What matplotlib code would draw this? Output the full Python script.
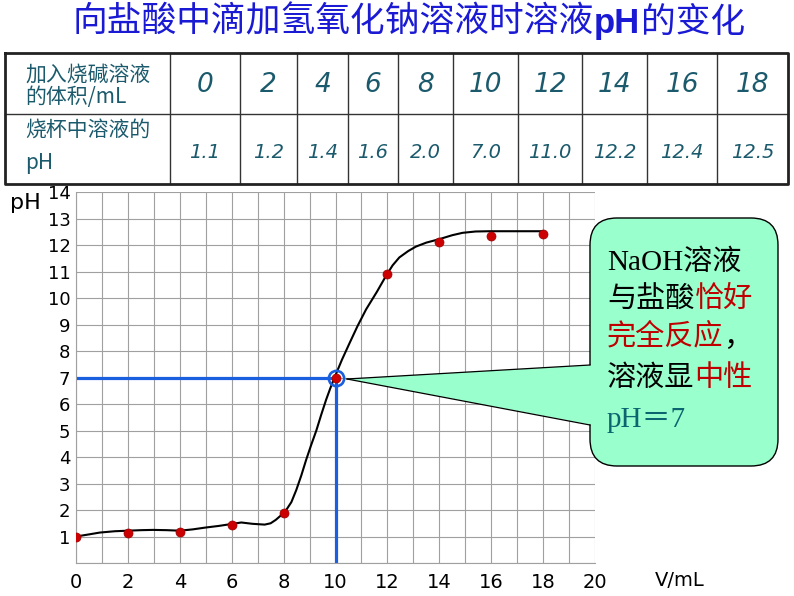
import matplotlib
matplotlib.use('Agg')
import matplotlib.pyplot as plt
from matplotlib.patches import FancyBboxPatch, Polygon
from matplotlib.lines import Line2D

CJK = ['Noto Sans CJK SC', 'DejaVu Sans']
SERIF = ['Liberation Serif', 'Noto Sans CJK SC']

# data ------------------------------------------------------------------------
title_parts = [('向盐酸中滴加氢氧化钠溶液时溶液', 'normal'),
               ('pH', 'bold'),
               ('的变化', 'normal')]
row_header_1 = ['加入烧碱溶液', '的体积/mL']
row_header_2 = ['烧杯中溶液的', 'pH']
volume = [0, 2, 4, 6, 8, 10, 12, 14, 16, 18]
ph_labels = ['1.1', '1.2', '1.4', '1.6', '2.0', '7.0', '11.0', '12.2', '12.4', '12.5']
# red dots as drawn on the chart
dot_ph = [1.0, 1.14, 1.18, 1.43, 1.87, 7.0, 10.9, 12.12, 12.34, 12.43]

# hand drawn curve
curve_x = [0, 0.5, 0.92, 1.5, 2.0, 2.5, 2.97, 3.5, 4.0, 4.5, 5.0, 5.5, 6.04, 6.37,
           6.8, 7.27, 7.5, 7.7, 7.9, 8.1, 8.3, 8.49, 8.68, 8.87, 9.06, 9.26, 9.45,
           9.64, 9.8, 9.96, 10.25, 10.54, 10.85, 11.18, 11.6, 11.95, 12.2, 12.46,
           12.8, 13.1, 13.5, 14.0, 14.5, 14.9, 15.4, 15.92, 16.95, 17.97]
curve_y = [1.0, 1.08, 1.15, 1.2, 1.22, 1.24, 1.25, 1.24, 1.22, 1.27, 1.34, 1.4, 1.48, 1.53,
           1.48, 1.45, 1.5, 1.63, 1.8, 2.0, 2.3, 2.76, 3.3, 3.9, 4.45, 5.0, 5.6,
           6.17, 6.6, 7.0, 7.68, 8.3, 8.95, 9.58, 10.25, 10.85, 11.24, 11.54,
           11.78, 11.95, 12.1, 12.23, 12.38, 12.47, 12.52, 12.53, 12.53, 12.53]

neutral_v, neutral_ph = 10, 7

note_lines = [
    [('NaOH溶液', 'black')],
    [('与盐酸', 'black'), ('恰好', '#c00000')],
    [('完全反应', '#c00000'), ('，', 'black')],
    [('溶液显', 'black'), ('中性', '#c00000')],
    [('pH＝7', '#0b6470')],
]

# figure ----------------------------------------------------------------------
W, H = 794, 596
fig = plt.figure(figsize=(W / 100, H / 100), dpi=100)

def fx(px):
    return px / W

def fy(py):
    return 1 - py / H

def chain(prev, parts, **kw):
    # put text pieces one after the other on the same line
    for txt, opts in parts:
        prev = fig.add_artist(plt.Annotation(txt, xy=(1, 0), xycoords=prev,
                                             va='bottom', ha='left', **kw, **opts))
    return prev

# title
title_color = '#1a1ad4'
t = fig.text(fx(73), fy(22), title_parts[0][0], family=CJK, fontsize=25,
             color=title_color, va='center', ha='left')
chain(t, [(txt, dict(fontweight=w,
                     family=['Liberation Sans', 'DejaVu Sans'] if w == 'bold' else CJK))
          for txt, w in title_parts[1:]],
      fontsize=25, color=title_color)

# table
tbl_color = '#1b5a6c'
col_edges = [5, 170, 240, 297, 348, 398, 453, 518, 582, 647, 717, 788]
for x in col_edges[1:-1]:
    fig.add_artist(Line2D([fx(x)] * 2, [fy(53), fy(184)], color='#333333', lw=1))
fig.add_artist(Line2D([fx(5), fx(788)], [fy(114)] * 2, color='#333333', lw=1))
fig.add_artist(Line2D([fx(5), fx(788), fx(788), fx(5), fx(5)],
                      [fy(53), fy(53), fy(184), fy(184), fy(53)], color='#222222', lw=2))

for s, y in zip(row_header_1, [75, 97]):
    fig.text(fx(25), fy(y), s, family=CJK, fontsize=15, style='italic',
             color=tbl_color, va='center', ha='left')
for s, y in zip(row_header_2, [130, 163]):
    fig.text(fx(25), fy(y), s, family=CJK, fontsize=15, style='italic',
             color=tbl_color, va='center', ha='left')
for i, (v, p) in enumerate(zip(volume, ph_labels)):
    cx = (col_edges[i + 1] + col_edges[i + 2]) / 2
    fig.text(fx(cx), fy(85), str(v), family='DejaVu Sans', fontsize=19, style='italic',
             color=tbl_color, va='center', ha='center')
    fig.text(fx(cx), fy(152), p, family='DejaVu Sans', fontsize=14, style='italic',
             color=tbl_color, va='center', ha='center')

# chart
ax = fig.add_axes([fx(76), fy(563), fx(595) - fx(76), fy(192.3) - fy(563)])
ax.set_xlim(0, 20)
ax.set_ylim(0, 14)
ax.set_xticks(range(0, 21, 2))
ax.set_xticks(range(1, 21, 2), minor=True)
ax.set_yticks(range(1, 15))
ax.set_yticks([0], minor=True)
ax.grid(True, which='both', color='#a0a0a0', lw=0.8)
ax.set_axisbelow(True)
for sp in ax.spines.values():
    sp.set_color('#a0a0a0')
    sp.set_linewidth(0.8)
ax.spines['top'].set_visible(False)
ax.spines['right'].set_visible(False)
ax.tick_params(which='both', length=0)
ax.tick_params(axis='x', pad=7, labelsize=14)
ax.tick_params(axis='y', pad=4, labelsize=13)
for lab in ax.get_xticklabels() + ax.get_yticklabels():
    lab.set_family('DejaVu Sans')

blue = '#1a5fe0'
ax.plot([0, neutral_v], [neutral_ph, neutral_ph], color=blue, lw=2.3, solid_capstyle='butt')
ax.plot([neutral_v, neutral_v], [0, neutral_ph], color=blue, lw=2.3, solid_capstyle='butt')
ax.plot(curve_x, curve_y, color='black', lw=1.5, solid_joinstyle='round')
ax.plot(volume, dot_ph, 'o', color='#cc0000', mec='#990000', mew=0.5, ms=6.5, zorder=4)
ax.plot([neutral_v], [neutral_ph], 'o', mfc='none', mec=blue, mew=1.9, ms=11, zorder=5)

fig.text(fx(10), fy(203), 'pH', family='DejaVu Sans', fontsize=16, va='center', ha='left')
fig.text(fx(655), fy(580), 'V/mL', family='DejaVu Sans', fontsize=14, va='center', ha='left')

# callout, drawn in inches so the corners stay round
mint = '#99ffcc'
inch = fig.dpi_scale_trans
box = FancyBboxPatch((590 / 100, (H - 466) / 100), (778 - 590) / 100, (466 - 218) / 100,
                     boxstyle='round,pad=0,rounding_size=0.27',
                     transform=inch, fc=mint, ec='black', lw=1, zorder=6)
fig.add_artist(box)
tip = (347 / 100, (H - 379) / 100)
top_base = (590 / 100, (H - 365) / 100)
bot_base = (590 / 100, (H - 425) / 100)
fig.add_artist(Polygon([tip, (5.93, top_base[1]), (5.93, bot_base[1])], closed=True,
                       transform=inch, fc=mint, ec='none', zorder=7))
for base in (top_base, bot_base):
    fig.add_artist(Line2D([tip[0], base[0]], [tip[1], base[1]], transform=inch,
                          color='black', lw=0.9, zorder=8))

for parts, y in zip(note_lines, [263, 300, 337, 379, 420]):
    t = fig.text(fx(607), fy(y), parts[0][0], family=SERIF, fontsize=21,
                 color=parts[0][1], va='center', ha='left', zorder=9)
    chain(t, [(txt, dict(color=col)) for txt, col in parts[1:]],
          family=SERIF, fontsize=21, zorder=9)

fig.savefig('out.png', dpi=100)
